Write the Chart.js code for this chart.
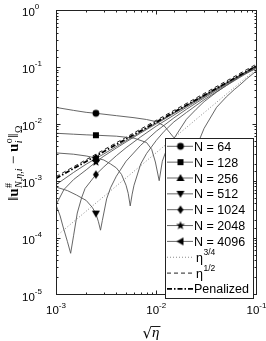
<!DOCTYPE html>
<html><head><meta charset="utf-8">
<script src="https://cdn.jsdelivr.net/npm/chart.js@4.4.1/dist/chart.umd.min.js"></script>
<style>html,body{margin:0;padding:0;background:#fff}#wrap{width:266px;height:341px;position:relative}</style>
</head><body><div id="wrap"><canvas id="c"></canvas></div>
<script>
// ---------- data ----------
const markerX = 2.5e-3;
const seriesLabels = ['N = 64', 'N = 128', 'N = 256', 'N = 512', 'N = 1024', 'N = 2048', 'N = 4096'];
const refLabels = ['\u03B7', '\u03B7', 'Penalized'];
const refLabelSups = ['3/4', '1/2', ''];
const xTickValues = [1e-3, 1e-2, 1e-1];
const xTickExponents = ['-3', '-2', '-1'];
const yTickValues = [1, 1e-1, 1e-2, 1e-3, 1e-4, 1e-5];
const yTickExponents = ['0', '-1', '-2', '-3', '-4', '-5'];

const n64X = [1e-3, 1.5e-3, 2e-3, 2.5e-3, 4e-3, 6e-3, 8e-3, 1e-2, 1.2e-2, 1.5e-2, 1.8e-2, 2e-2, 2.14e-2, 2.3e-2, 2.6e-2, 3e-2, 4e-2, 5e-2, 6e-2, 7e-2, 8e-2, 1e-1];
const n64Y = [0.0194, 0.0172, 0.0159, 0.0153, 0.0139, 0.0128, 0.0119, 0.0109, 9.2e-3, 5.7e-3, 3.2e-3, 1.6e-3, 4e-4, 1.8e-3, 4.5e-3, 8.3e-3, 0.0195, 0.0297, 0.0399, 0.05, 0.062, 0.085];
const n128X = [1e-3, 1.5e-3, 2e-3, 2.5e-3, 4e-3, 6e-3, 8e-3, 9e-3, 9.8e-3, 1.07e-2, 1.15e-2, 1.3e-2, 1.5e-2, 2e-2, 2.5e-2, 3e-2, 4e-2, 5e-2, 7e-2, 1e-1];
const n128Y = [6.82e-3, 6.56e-3, 6.4e-3, 6.3e-3, 6.06e-3, 5.6e-3, 4.69e-3, 3.56e-3, 2.13e-3, 1.0e-3, 2.2e-3, 4.0e-3, 5.5e-3, 0.012, 0.018, 0.0245, 0.036, 0.047, 0.07, 0.094];
const n256X = [1e-3, 1.5e-3, 2e-3, 2.5e-3, 3e-3, 3.5e-3, 4e-3, 4.5e-3, 5e-3, 5.25e-3, 5.5e-3, 5.75e-3, 6e-3, 7e-3, 8e-3, 1e-2, 1.2e-2, 1.5e-2, 2e-2, 3e-2, 5e-2, 1e-1];
const n256Y = [3.08e-3, 2.92e-3, 2.72e-3, 2.5e-3, 2.31e-3, 1.97e-3, 1.68e-3, 1.29e-3, 8.3e-4, 6e-4, 3.6e-4, 5.8e-4, 8.3e-4, 1.97e-3, 3.0e-3, 5.1e-3, 7.4e-3, 0.0108, 0.0158, 0.0265, 0.047, 0.098];
const n512X = [1e-3, 1.3e-3, 1.6e-3, 2e-3, 2.3e-3, 2.5e-3, 2.65e-3, 2.78e-3, 2.9e-3, 3.2e-3, 3.5e-3, 4e-3, 5e-3, 7e-3, 1e-2, 1.5e-2, 2e-2, 3e-2, 5e-2, 1e-1];
const n512Y = [7.74e-4, 6.7e-4, 5.6e-4, 4.5e-4, 3.4e-4, 2.64e-4, 1.9e-4, 1.35e-4, 2.0e-4, 4.8e-4, 7.5e-4, 1.2e-3, 2.2e-3, 4.2e-3, 7.4e-3, 0.0127, 0.018, 0.0285, 0.049, 0.1];
const n1024X = [1e-3, 1.1e-3, 1.17e-3, 1.3e-3, 1.4e-3, 1.5e-3, 1.63e-3, 1.8e-3, 1.95e-3, 2.5e-3, 3e-3, 4e-3, 5e-3, 7e-3, 1e-2, 2e-2, 5e-2, 1e-1];
const n1024Y = [3.76e-4, 2.4e-4, 1.6e-4, 8.5e-5, 5.3e-5, 1.1e-4, 2.7e-4, 5.0e-4, 7.3e-4, 1.28e-3, 1.75e-3, 2.75e-3, 3.8e-3, 5.9e-3, 9.1e-3, 0.0195, 0.051, 0.103];
const n2048X = [1e-3, 1.2e-3, 1.5e-3, 2e-3, 2.5e-3, 3e-3, 4e-3, 5e-3, 7e-3, 1e-2, 2e-2, 5e-2, 1e-1];
const n2048Y = [3.76e-4, 7e-4, 1.05e-3, 1.55e-3, 2.13e-3, 2.7e-3, 3.75e-3, 4.8e-3, 6.9e-3, 0.01, 0.0205, 0.0515, 0.1035];
const n4096X = [1e-3, 1.5e-3, 2e-3, 2.5e-3, 3e-3, 5e-3, 1e-2, 2e-2, 5e-2, 1e-1];
const n4096Y = [8.5e-4, 1.4e-3, 1.95e-3, 2.45e-3, 2.95e-3, 5.05e-3, 0.0104, 0.021, 0.0525, 0.104];

const eta34X = [1e-3, 1e-1];
const eta34Y = [1.05e-4, 0.092];
const eta12X = [1e-3, 1e-1];
const eta12Y = [1.18e-3, 0.112];
const penX = [1e-3, 1e-2, 1e-1];
const penY = [1.1e-3, 1.07e-2, 0.104];

// ---------- markers ----------
function mk(kind) {
  const c = document.createElement('canvas');
  const S = 10; c.width = S; c.height = S;
  const g = c.getContext('2d');
  g.fillStyle = '#000';
  g.translate(S / 2, S / 2);
  g.beginPath();
  switch (kind) {
    case 'circle': g.arc(0, 0, 3.4, 0, 2 * Math.PI); break;
    case 'square': g.rect(-3, -3, 6, 6); break;
    case 'triUp': g.moveTo(0, -4); g.lineTo(4, 3); g.lineTo(-4, 3); break;
    case 'triDown': g.moveTo(0, 4); g.lineTo(4, -3); g.lineTo(-4, -3); break;
    case 'triLeft': g.moveTo(-4, 0); g.lineTo(3, -4); g.lineTo(3, 4); break;
    case 'diamond': g.moveTo(0, -4.2); g.lineTo(3, 0); g.lineTo(0, 4.2); g.lineTo(-3, 0); break;
    case 'star':
      for (let k = 0; k < 10; k++) {
        const r = k % 2 ? 1.9 : 4.6;
        const a = -Math.PI / 2 + k * Math.PI / 5;
        const px = r * Math.cos(a), py = r * Math.sin(a);
        if (k) g.lineTo(px, py); else g.moveTo(px, py);
      }
      break;
  }
  g.closePath(); g.fill();
  return c;
}
const markerKinds = ['circle', 'square', 'triUp', 'triDown', 'diamond', 'star', 'triLeft'];
const markerImgs = markerKinds.map(mk);

function pts(xs, ys) { return xs.map((x, i) => ({ x: x, y: ys[i] })); }

const nXs = [n64X, n128X, n256X, n512X, n1024X, n2048X, n4096X];
const nYs = [n64Y, n128Y, n256Y, n512Y, n1024Y, n2048Y, n4096Y];

const nDatasets = seriesLabels.map((lab, i) => ({
  label: lab,
  data: pts(nXs[i], nYs[i]),
  showLine: true,
  borderColor: '#555',
  borderWidth: 0.9,
  tension: 0,
  pointStyle: markerImgs[i],
  pointRadius: ctx => (ctx.raw && ctx.raw.x === markerX ? 4 : 0),
  pointHoverRadius: 0,
  order: 1
}));
const refDatasets = [
  { label: 'eta34', data: pts(eta34X, eta34Y), showLine: true, borderColor: '#8a8a8a', borderWidth: 1, borderDash: [1, 2], pointRadius: 0, order: 2 },
  { label: 'eta12', data: pts(eta12X, eta12Y), showLine: true, borderColor: '#222', borderWidth: 1, borderDash: [4, 3], pointRadius: 0, order: 2 },
  { label: 'pen', data: pts(penX, penY), showLine: true, borderColor: '#000', borderWidth: 1.8, borderDash: [5, 2, 1.5, 2], pointRadius: 0, order: 0 }
];

// ---------- decorations ----------
const SANS = '"Liberation Sans", Arial, "DejaVu Sans", sans-serif';
const SERIF = '"Liberation Serif", "DejaVu Serif", serif';

function drawLegend(ctx) {
  const bx = 165.5, by = 138.5, bw = 88, bh = 160;
  ctx.save();
  ctx.fillStyle = '#fff';
  ctx.fillRect(bx, by, bw, bh);
  ctx.strokeStyle = '#222'; ctx.lineWidth = 1; ctx.setLineDash([]);
  ctx.strokeRect(bx, by, bw, bh);
  const rows = [];
  nDatasets.forEach((d, i) => rows.push({ ds: d, text: d.label, sup: '', img: markerImgs[i] }));
  refDatasets.forEach((d, i) => rows.push({ ds: d, text: refLabels[i], sup: refLabelSups[i], img: null }));
  rows.forEach((r, i) => {
    const yc = 146.3 + i * 15.85;
    ctx.save();
    ctx.strokeStyle = r.ds.borderColor;
    ctx.lineWidth = r.ds.borderWidth;
    ctx.setLineDash(r.ds.borderDash || []);
    ctx.beginPath(); ctx.moveTo(167, yc); ctx.lineTo(193, yc); ctx.stroke();
    ctx.restore();
    if (r.img) ctx.drawImage(r.img, 180.5 - r.img.width / 2, yc - r.img.height / 2);
    ctx.fillStyle = '#000';
    ctx.font = '12.5px ' + SANS;
    ctx.textBaseline = 'alphabetic'; ctx.textAlign = 'left';
    const tx = r.sup ? 196 : 194;
    ctx.fillText(r.text, tx, yc + 4.5);
    if (r.sup) {
      const w = ctx.measureText(r.text).width;
      ctx.font = '8.5px ' + SANS;
      ctx.fillText(r.sup, tx + w + 0.5, yc - 2.5);
    }
  });
  ctx.restore();
}

function drawYTitle(ctx) {
  const main = '15px ' + SERIF, bold = 'bold 15px ' + SERIF;
  const small = '10px ' + SERIF, smallIt = 'italic 10px ' + SERIF;
  const segs = [
    { t: '\u2016', f: main },
    { t: 'u', f: bold },
    { sup: '#', supF: small, sub: 'N,\u03B7,i', subF: smallIt },
    { t: ' \u2212 ', f: main },
    { t: 'u', f: bold },
    { sup: 'o', supF: small, sub: 'i', subF: smallIt },
    { t: '\u2016', f: main },
    { sub: '\u03A9', subF: small }
  ];
  let total = 0;
  segs.forEach(s => {
    if (s.t) { ctx.font = s.f; s.w = ctx.measureText(s.t).width; }
    else {
      let w1 = 0, w2 = 0;
      if (s.sup) { ctx.font = s.supF; w1 = ctx.measureText(s.sup).width; }
      if (s.sub) { ctx.font = s.subF; w2 = ctx.measureText(s.sub).width; }
      s.w = Math.max(w1, w2) + 1;
    }
    total += s.w;
  });
  ctx.save();
  ctx.translate(18, 163 + total / 2);
  ctx.rotate(-Math.PI / 2);
  ctx.fillStyle = '#000'; ctx.textAlign = 'left'; ctx.textBaseline = 'alphabetic';
  let x = 0;
  segs.forEach(s => {
    if (s.t) { ctx.font = s.f; ctx.fillText(s.t, x, 0); }
    else {
      if (s.sup) { ctx.font = s.supF; ctx.fillText(s.sup, x + 0.5, -6.5); }
      if (s.sub) { ctx.font = s.subF; ctx.fillText(s.sub, x + 0.5, 4); }
    }
    x += s.w;
  });
  ctx.restore();
}

function drawXTitle(ctx) {
  ctx.save();
  ctx.fillStyle = '#000'; ctx.strokeStyle = '#000';
  ctx.textBaseline = 'alphabetic'; ctx.textAlign = 'left';
  ctx.font = '15px "DejaVu Serif", serif';
  const rw = ctx.measureText('\u221A').width;
  ctx.font = 'italic 15px ' + SERIF;
  const ew = ctx.measureText('\u03B7').width;
  const x0 = 151 - (rw + ew) / 2;
  ctx.font = '15px "DejaVu Serif", serif';
  ctx.fillText('\u221A', x0, 338);
  ctx.font = 'italic 15px ' + SERIF;
  ctx.fillText('\u03B7', x0 + rw, 337);
  ctx.lineWidth = 0.9;
  ctx.beginPath(); ctx.moveTo(x0 + rw - 0.5, 326.5); ctx.lineTo(x0 + rw + ew + 1, 326.5); ctx.stroke();
  ctx.restore();
}

const decor = {
  id: 'decor',
  afterDatasetsDraw(chart) {
    const { ctx, chartArea: a, scales } = chart;
    const xs = scales.x, ys = scales.y;
    ctx.save();
    ctx.strokeStyle = '#222'; ctx.lineWidth = 1; ctx.setLineDash([]);
    const L = Math.round(a.left) + 0.5, R = Math.round(a.right) - 0.5, T = Math.round(a.top) + 0.5, B = Math.round(a.bottom) - 0.5;
    ctx.strokeRect(L, T, R - L, B - T);
    const isMajor = v => Math.abs(Math.log10(v) - Math.round(Math.log10(v))) < 1e-6;
    ctx.beginPath();
    xs.ticks.forEach(t => {
      const p = Math.round(xs.getPixelForValue(t.value)) + 0.5;
      if (p < L - 0.1 || p > R + 0.1) return;
      const len = isMajor(t.value) ? 4 : 2;
      ctx.moveTo(p, B); ctx.lineTo(p, B - len);
      ctx.moveTo(p, T); ctx.lineTo(p, T + len);
    });
    ys.ticks.forEach(t => {
      const p = Math.round(ys.getPixelForValue(t.value)) + 0.5;
      if (p < T - 0.1 || p > B + 0.1) return;
      const len = isMajor(t.value) ? 4 : 2;
      ctx.moveTo(L, p); ctx.lineTo(L + len, p);
      ctx.moveTo(R, p); ctx.lineTo(R - len, p);
    });
    ctx.stroke();
    ctx.restore();

    drawLegend(ctx);

    // tick labels
    ctx.save();
    ctx.fillStyle = '#000'; ctx.textBaseline = 'alphabetic'; ctx.textAlign = 'left';
    xTickValues.forEach((v, i) => {
      const p = xs.getPixelForValue(v);
      ctx.font = '11.5px ' + SANS; const w1 = ctx.measureText('10').width;
      ctx.font = '8px ' + SANS; const w2 = ctx.measureText(xTickExponents[i]).width;
      const x0 = p - (w1 + w2) / 2;
      ctx.font = '11.5px ' + SANS; ctx.fillText('10', x0, 313.5);
      ctx.font = '8px ' + SANS; ctx.fillText(xTickExponents[i], x0 + w1, 307.5);
    });
    yTickValues.forEach((v, i) => {
      const p = ys.getPixelForValue(v);
      ctx.font = '11.5px ' + SANS; const w1 = ctx.measureText('10').width;
      ctx.fillText('10', 22, p + 6.3);
      ctx.font = '8px ' + SANS; ctx.fillText(yTickExponents[i], 22 + w1, p - 0.8);
    });
    ctx.restore();

    drawYTitle(ctx);
    drawXTitle(ctx);
  }
};

new Chart(document.getElementById('c'), {
  type: 'scatter',
  data: { datasets: nDatasets.concat(refDatasets) },
  options: {
    responsive: true,
    maintainAspectRatio: false,
    animation: false,
    events: [],
    layout: { padding: { left: 48, right: 9.5, top: 10, bottom: 38.5 } },
    plugins: { legend: { display: false }, tooltip: { enabled: false } },
    scales: {
      x: { type: 'logarithmic', min: 1e-3, max: 1e-1, ticks: { display: false }, grid: { display: false }, border: { display: false } },
      y: { type: 'logarithmic', min: 1e-5, max: 1, ticks: { display: false }, grid: { display: false }, border: { display: false } }
    }
  },
  plugins: [decor]
});
</script>
</body></html>
